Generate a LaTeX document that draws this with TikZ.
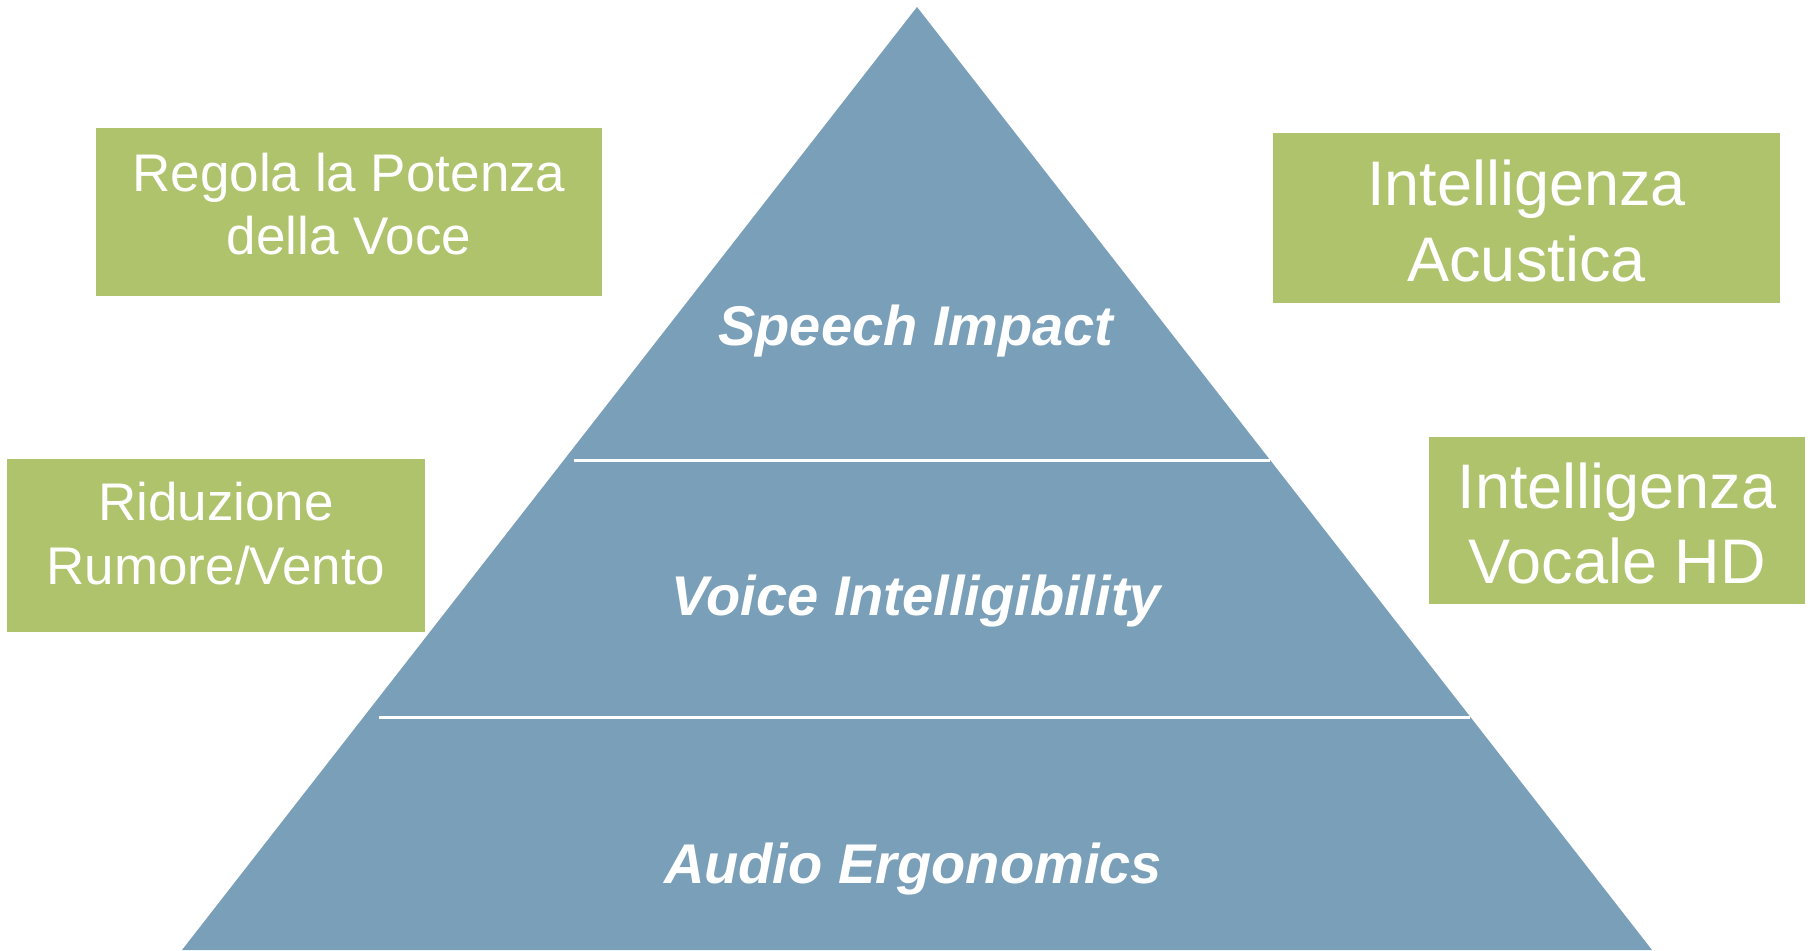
\documentclass[tikz,border=0pt]{standalone}
\usepackage{fontspec}
\setmainfont{Liberation Sans}
\definecolor{pyr}{RGB}{122,159,185}
\definecolor{grn}{RGB}{175,195,108}
\begin{document}
\begin{tikzpicture}[x=1pt,y=-1pt,
  greenbox/.style={fill=grn, inner sep=0pt},
  boxtext/.style={text=white, align=center, inner sep=0pt},
  small/.style={font=\fontsize{53}{63.5}\selectfont},
  large/.style={font=\fontsize{63}{75.5}\selectfont},
  layer/.style={text=white, font=\fontsize{56}{67}\selectfont\bfseries\itshape},
  divider/.style={white, line width=3pt}]
\useasboundingbox (0,0) rectangle (1811,950);
\coordinate (apex) at (917,7);
\coordinate (br) at (1652,950);
\coordinate (bl) at (182,950);
\fill[pyr] (apex) -- (br) -- (bl) -- cycle;
\coordinate (d1l) at (574,460);
\coordinate (d1r) at (1270,460);
\coordinate (d2l) at (379,717);
\coordinate (d2r) at (1470,717);
\draw[divider] (d1l) -- (d1r);
\draw[divider] (d2l) -- (d2r);
\node[layer] (speech) at (916,331) {Speech Impact};
\node[layer] (voice) at (916,601) {Voice Intelligibility};
\node[layer] (audio) at (913,869) {Audio Ergonomics};
\node[greenbox, minimum width=506pt, minimum height=168pt] (regola) at (349,212) {};
\node[boxtext, small] (regolaT) at ([yshift=8pt]regola.center) {Regola la Potenza\\della Voce};
\node[greenbox, minimum width=507pt, minimum height=170pt] (acustica) at (1526.5,218) {};
\node[boxtext, large] (acusticaT) at ([yshift=-3pt]acustica.center) {Intelligenza\\Acustica};
\node[greenbox, minimum width=418pt, minimum height=173pt] (riduzione) at (216,545.5) {};
\node[boxtext, small] (riduzioneT) at ([yshift=12pt]riduzione.center) {Riduzione\\Rumore/Vento};
\node[greenbox, minimum width=376pt, minimum height=167pt] (vocale) at (1617,520.5) {};
\node[boxtext, large] (vocaleT) at ([yshift=-3pt]vocale.center) {Intelligenza\\Vocale HD};
\end{tikzpicture}
\end{document}
